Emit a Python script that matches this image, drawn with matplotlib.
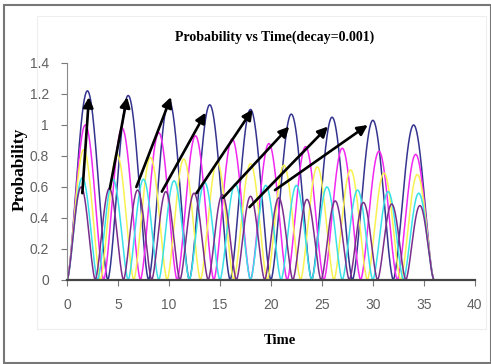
import numpy as np
import matplotlib
matplotlib.use('Agg')
from matplotlib import pyplot as plt
from matplotlib.patches import Rectangle

# 读取数据 (peak heights of every bump)
t_end = 36
navy_peaks = [1.22, 1.19, 1.16, 1.13, 1.10, 1.07, 1.05, 1.03, 1.00]
magenta_peaks = [1.00, 0.98, 0.95, 0.93, 0.91, 0.88, 0.86, 0.85, 0.83, 0.81]
yellow_peaks = [0.84, 0.81, 0.79, 0.78, 0.76, 0.75, 0.74, 0.73, 0.71, 0.69, 0.68]
cyan_peaks = [0.66, 0.65, 0.65, 0.64, 0.63, 0.62, 0.61, 0.61, 0.60, 0.58, 0.57, 0.56]
purple_peaks = [0.60, 0.59, 0.58, 0.57, 0.56, 0.55, 0.54, 0.53, 0.52, 0.51, 0.50, 0.49, 0.48]

# arrows: (tail x, tail y, head x, head y)
arrows = [(1.5, 0.56, 2.15, 1.18), (4.2, 0.59, 5.9, 1.18), (6.8, 0.60, 10.2, 1.18),
          (9.3, 0.57, 13.6, 1.08), (12.7, 0.56, 18.2, 1.10), (15.3, 0.53, 21.8, 0.99),
          (17.9, 0.47, 25.6, 0.99), (20.4, 0.58, 29.5, 1.00)]

x_ticks = [0, 5, 10, 15, 20, 25, 30, 35, 40]
y_ticks = [0, 0.2, 0.4, 0.6, 0.8, 1.0, 1.2, 1.4]
y_labels = ['0', '0.2', '0.4', '0.6', '0.8', '1', '1.2', '1.4']

series = [(navy_peaks, '#34348f'), (magenta_peaks, '#f028f0'),
          (yellow_peaks, '#f8f250'), (cyan_peaks, '#38e0e8'),
          (purple_peaks, '#7a2e8c')]

fig = plt.figure(figsize=(4.91, 3.64), dpi=100)
ax = fig.add_axes([0.1365, 0.2308, 0.8305, 0.5962])

t = np.linspace(0, t_end, 2001)
for peaks, color in series:
    period = t_end / len(peaks)
    k = np.minimum((t / period).astype(int), len(peaks) - 1)
    h = np.array(peaks)[k]
    ax.plot(t, h * np.abs(np.sin(np.pi * t / period)) ** 1.6, c=color, lw=1.1)

for x0, y0, x1, y1 in arrows:
    ax.annotate('', xy=(x1, y1), xytext=(x0, y0),
                arrowprops=dict(arrowstyle='-|>', color='black', lw=1.9,
                                mutation_scale=15, shrinkA=0, shrinkB=0))

ax.set_xlim(0, 40)
ax.set_ylim(0, 1.4)
ax.set_xticks(x_ticks)
ax.set_yticks(y_ticks)
ax.set_yticklabels(y_labels)
ax.spines['top'].set_visible(False)
ax.spines['right'].set_visible(False)
ax.spines['left'].set_color('#8a8a8a')
ax.spines['bottom'].set_color('#444444')
ax.spines['bottom'].set_linewidth(1.6)
ax.tick_params(axis='both', direction='out', length=4, color='#777777',
               labelcolor='#606060', labelsize=10)
for lab in ax.get_xticklabels() + ax.get_yticklabels():
    lab.set_family(['Liberation Sans Narrow', 'Liberation Sans'])
ax.tick_params(axis='x', pad=9)
ax.tick_params(axis='y', pad=9)

# 添加标题和轴标签
fig.text(0.560, 0.898, 'Probability vs Time(decay=0.001)', ha='center', va='center',
         family='Liberation Serif', weight='bold', fontsize=10)
fig.text(0.571, 0.064, 'Time', ha='center', va='center',
         family='Liberation Serif', weight='bold', fontsize=10.5)
fig.text(0.040, 0.535, 'Probability', ha='center', va='center', rotation=90,
         family='Liberation Serif', weight='bold', fontsize=12.5)

# chart area boxes
fig.patches.append(Rectangle((0.075, 0.095), 0.915, 0.86, transform=fig.transFigure,
                             fill=False, ec='#eeeeee', lw=0.8))
fig.patches.append(Rectangle((0.009, 0.004), 0.99, 0.982, transform=fig.transFigure,
                             fill=False, ec='#777777', lw=1.5))

fig.savefig('out.png', dpi=100)
